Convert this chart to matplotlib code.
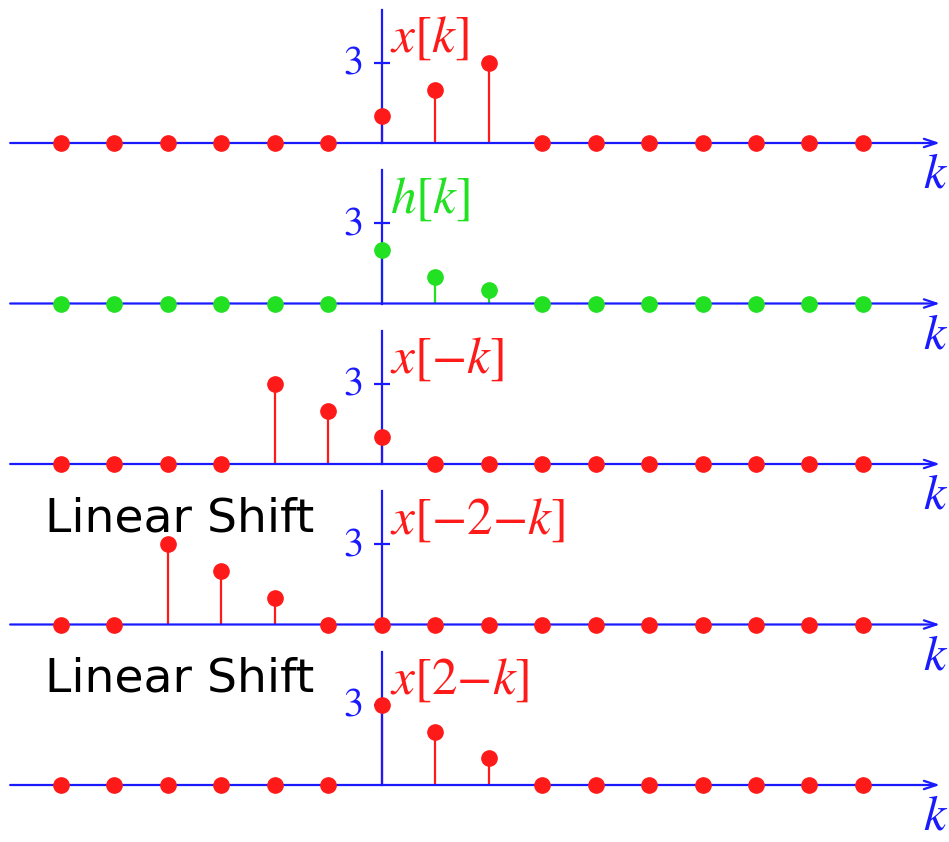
import numpy as np
import matplotlib
matplotlib.use("Agg")
import matplotlib.pyplot as plt

plt.rcParams["mathtext.fontset"] = "stix"

# sample index range
k = list(range(-6, 10))

# sequences (value at each k)
x_k       = [0, 0, 0, 0, 0, 0, 1, 2, 3, 0, 0, 0, 0, 0, 0, 0]
h_k       = [0, 0, 0, 0, 0, 0, 2, 1, 0.5, 0, 0, 0, 0, 0, 0, 0]
x_neg_k   = [0, 0, 0, 0, 3, 2, 1, 0, 0, 0, 0, 0, 0, 0, 0, 0]
x_m2_k    = [0, 0, 3, 2, 1, 0, 0, 0, 0, 0, 0, 0, 0, 0, 0, 0]
x_2mk     = [0, 0, 0, 0, 0, 0, 3, 2, 1, 0, 0, 0, 0, 0, 0, 0]

series = [x_k, h_k, x_neg_k, x_m2_k, x_2mk]
labels = [r"$x[k]$", r"$h[k]$", r"$x[{-}k]$", r"$x[{-}2{-}k]$", r"$x[2{-}k]$"]
side_text = [None, None, None, "Linear Shift", "Linear Shift"]

RED = "#ff1a1a"
GREEN = "#22e022"
BLUE = "#1a1aff"
colors = [RED, GREEN, RED, RED, RED]

W, H = 949, 842
fig = plt.figure(figsize=(W / 100, H / 100), dpi=100)
fig.patch.set_facecolor("white")

unit = 26.67        # pixels per unit of amplitude
above = 144.0       # pixels above the baseline inside each panel
panel_h = 160.5     # pixel height of a panel
first_base = 143.0

for i, (vals, lab, col) in enumerate(zip(series, labels, colors)):
    base = first_base + panel_h * i
    top = base - above
    ax = fig.add_axes([0, 1 - (top + panel_h) / H, 1, panel_h / H])
    ax.set_xlim(-7.14, 10.61)
    ax.set_ylim(-(panel_h - above) / unit, above / unit)
    ax.axis("off")

    kk = np.array(k)
    vv = np.array(vals, dtype=float)
    nz = vv != 0
    # stems
    ax.vlines(kk[nz], 0, vv[nz], color=col, lw=1.6, zorder=1)
    # horizontal axis with arrow
    ax.annotate("", xy=(10.44, 0), xytext=(-6.95, 0),
                arrowprops=dict(arrowstyle="->,head_length=0.9,head_width=0.3",
                                color=BLUE, lw=1.6, shrinkA=0, shrinkB=0),
                zorder=2)
    # vertical axis with tick at 3
    ax.plot([0, 0], [0, 4.99], color=BLUE, lw=1.6, zorder=2)
    ax.plot([0], [3], marker="_", ms=11, mew=1.6, color=BLUE, zorder=2)
    ax.annotate("3", xy=(0, 3), xytext=(-18, -2), textcoords="offset pixels",
                ha="right", va="center", fontsize=29, color=BLUE,
                family="STIXGeneral")
    # markers
    ax.plot(kk, vv, "o", color=col, ms=11, mec=col, zorder=3)
    # sequence label
    ax.text(0.16, 3.42, lab, color=col, fontsize=37, ha="left", va="baseline")
    # axis name
    ax.text(10.35, -1.15, r"$k$", color=BLUE, fontsize=36, ha="center",
            va="center", clip_on=False)

# annotation text on the shifted panels
for i, st in enumerate(side_text):
    if st:
        base = first_base + panel_h * i
        yb = base - 93
        fig.text(45 / W, 1 - yb / H, st, fontsize=34, color="black",
                 ha="left", va="baseline", family="DejaVu Sans")

fig.savefig("out.png", dpi=100, facecolor="white")
